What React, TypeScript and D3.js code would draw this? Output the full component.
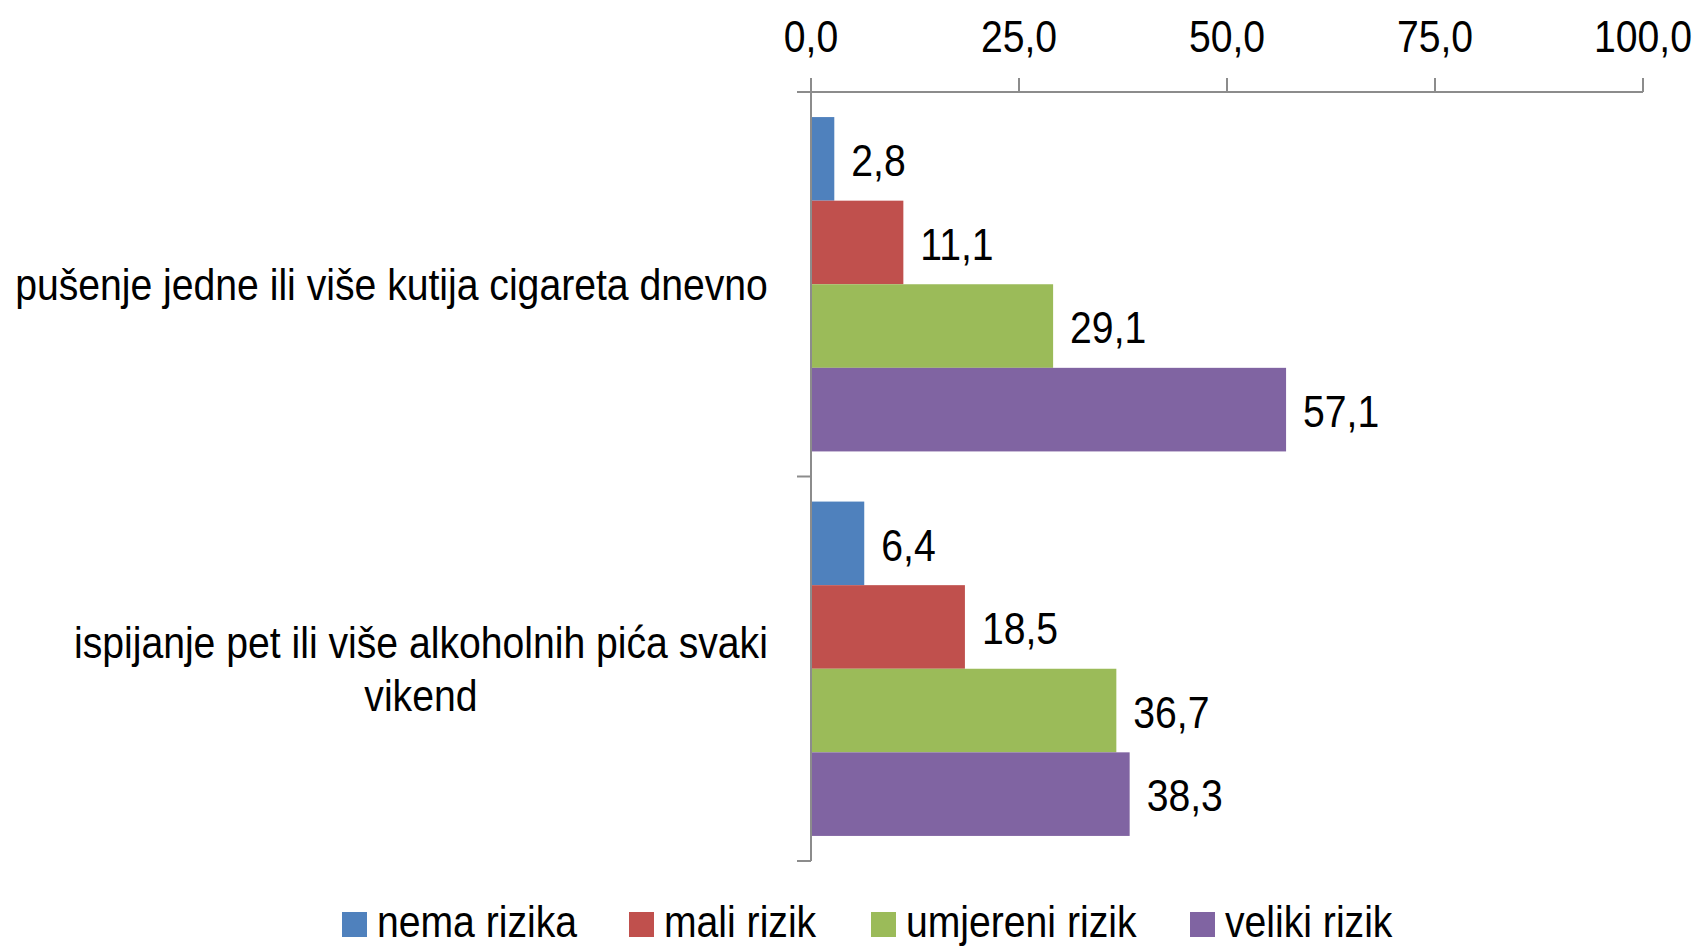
import { useEffect, useRef } from "react";
import * as d3 from "d3";

const categories = [
  "pušenje jedne ili više kutija cigareta dnevno",
  "ispijanje pet ili više alkoholnih pića svaki vikend",
];
// how the category labels wrap in the original
const categoryLines = [
  ["pušenje jedne ili više kutija cigareta dnevno"],
  ["ispijanje pet ili više alkoholnih pića svaki", "vikend"],
];
const seriesNames = ["nema rizika", "mali rizik", "umjereni rizik", "veliki rizik"];
const seriesColors = ["#4F81BD", "#C0504D", "#9BBB59", "#8064A2"];
const nemaRizika = [2.8, 6.4];
const maliRizik = [11.1, 18.5];
const umjereniRizik = [29.1, 36.7];
const velikiRizik = [57.1, 38.3];
const xTicks = [0, 25, 50, 75, 100];

// no narrow font installed, so squeeze Liberation Sans horizontally
const FONT = "'Liberation Sans', Arial, sans-serif";
const SX = 0.87;
const FS = 45;

const App = () => {
  const ref = useRef<SVGSVGElement>(null);

  useEffect(() => {
    const svg = d3.select(ref.current);
    svg.selectAll("*").remove();

    const left = 811;
    const right = 1643;
    const top = 92;
    const bottom = 861;

    const series = [nemaRizika, maliRizik, umjereniRizik, velikiRizik];
    const fmt = (v: number) => v.toFixed(1).replace(".", ",");

    const label = (parent: any, x: number, y: number, str: string, anchor = "start") =>
      parent
        .append("g")
        .attr("transform", `translate(${x},${y}) scale(${SX},1)`)
        .append("text")
        .attr("text-anchor", anchor)
        .attr("dy", "0.36em")
        .attr("font-family", FONT)
        .attr("font-size", FS)
        .attr("fill", "#000")
        .text(str);

    const x = d3.scaleLinear().domain([0, 100]).range([left, right]);
    const y = d3.scaleBand().domain(categories).range([top, bottom]);
    const inner = d3
      .scaleBand<number>()
      .domain(d3.range(series.length))
      .range([0, y.bandwidth()])
      .paddingOuter(0.3)
      .paddingInner(0);

    const axisColor = "#8c8c8c";

    // bars
    categories.forEach((cat, ci) => {
      const g = svg.append("g").attr("transform", `translate(0,${y(cat)})`);
      series.forEach((vals, si) => {
        const v = vals[ci];
        g.append("rect")
          .attr("x", x(0))
          .attr("y", inner(si)!)
          .attr("width", x(v) - x(0))
          .attr("height", inner.bandwidth())
          .attr("fill", seriesColors[si]);
        label(g, x(v) + 17, inner(si)! + inner.bandwidth() / 2 + 1, fmt(v));
      });
    });

    // top value axis
    const xa = svg.append("g");
    xa.append("line")
      .attr("x1", left - 12)
      .attr("x2", right)
      .attr("y1", top)
      .attr("y2", top)
      .attr("stroke", axisColor)
      .attr("stroke-width", 2);
    xTicks.forEach((t) => {
      xa.append("line")
        .attr("x1", x(t))
        .attr("x2", x(t))
        .attr("y1", top)
        .attr("y2", top - 14)
        .attr("stroke", axisColor)
        .attr("stroke-width", 2);
      label(xa, x(t), 36, fmt(t), "middle");
    });

    // category axis
    const ya = svg.append("g");
    ya.append("line")
      .attr("x1", left)
      .attr("x2", left)
      .attr("y1", top)
      .attr("y2", bottom)
      .attr("stroke", axisColor)
      .attr("stroke-width", 2);
    [top, ...categories.map((c) => y(c)! + y.bandwidth())].forEach((ty) => {
      ya.append("line")
        .attr("x1", left - 14)
        .attr("x2", left)
        .attr("y1", ty)
        .attr("y2", ty)
        .attr("stroke", axisColor)
        .attr("stroke-width", 2);
    });

    categories.forEach((cat, ci) => {
      const lines = categoryLines[ci];
      const cy = y(cat)! + y.bandwidth() / 2;
      const lh = 53;
      const g = ya.append("g");
      const t = g
        .append("text")
        .attr("font-family", FONT)
        .attr("font-size", FS)
        .attr("text-anchor", "middle");
      lines.forEach((ln, li) => {
        t.append("tspan")
          .attr("x", 0)
          .attr("y", (li - (lines.length - 1) / 2) * lh)
          .attr("dy", "0.36em")
          .text(ln);
      });
      // right-align the block at x=768, lines centred within it
      const w = (t.node() as SVGTextElement).getBBox().width * SX;
      g.attr("transform", `translate(${768 - w / 2},${cy}) scale(${SX},1)`);
    });

    // legend
    const legendX = [342, 629, 871, 1190];
    const legend = svg.append("g");
    seriesNames.forEach((name, i) => {
      legend
        .append("rect")
        .attr("x", legendX[i])
        .attr("y", 912)
        .attr("width", 25)
        .attr("height", 25)
        .attr("fill", seriesColors[i]);
      label(legend, legendX[i] + 35, 921, name);
    });
  }, []);

  return (
    <svg
      ref={ref}
      width={1698}
      height={946}
      style={{ position: "absolute", left: 0, top: 0, background: "#fff" }}
    />
  );
};

export default App;
